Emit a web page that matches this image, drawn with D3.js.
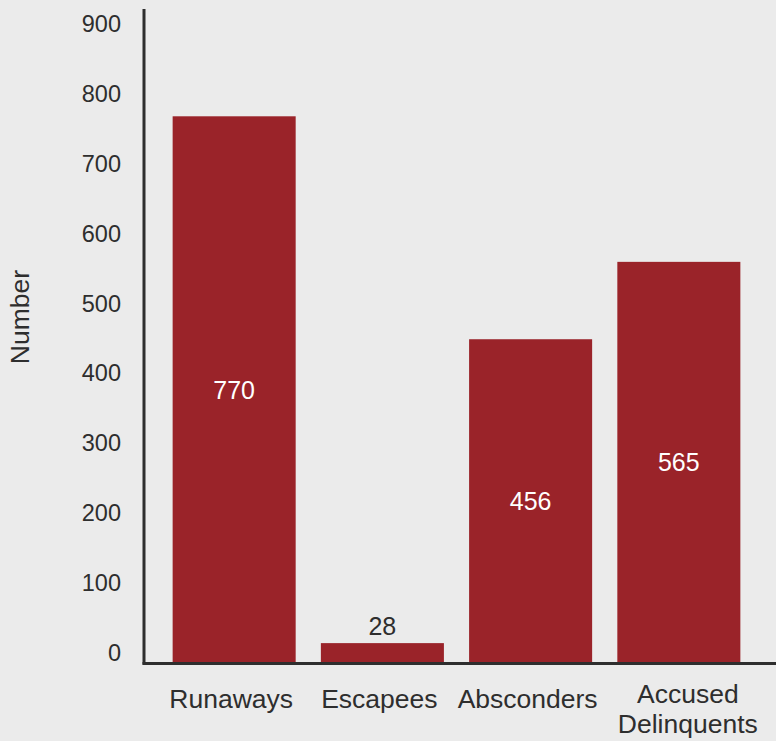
<!DOCTYPE html>
<html>
<head>
<meta charset="utf-8">
<script src="https://cdn.jsdelivr.net/npm/d3@7"></script>
<style>
    body { margin: 0; background: #ebebeb; }
    svg { display: block; font-family: "Liberation Sans", Arial, sans-serif; }
</style>
</head>
<body>
<div id="chart"></div>
<script>
// chart data
let categories = ['Runaways', 'Escapees', 'Absconders', 'Accused Delinquents'];
let counts = [770, 28, 456, 565];
let tickValues = [0, 100, 200, 300, 400, 500, 600, 700, 800, 900];

let width = 776,
    height = 741,
    barColor = '#9a2329',
    inkColor = '#2e2e2e';

let svg = d3.select('#chart').append('svg')
    .attr('width', width)
    .attr('height', height);

svg.append('rect')
    .attr('width', width)
    .attr('height', height)
    .attr('fill', '#ebebeb');

// scales
let x = d3.scaleBand()
    .domain(categories)
    .range([143, 770])
    .paddingInner(0.17)
    .paddingOuter(0.2);

let y = d3.scaleLinear()
    .domain([0, 900])
    .range([663, 24]);

// tick labels sit a little above the bar scale
let yTicks = d3.scaleLinear()
    .domain([0, 900])
    .range([653, 24]);

// bars
svg.selectAll('.bar')
    .data(counts)
    .enter().append('rect')
    .attr('class', 'bar')
    .attr('x', function(d, i) { return x(categories[i]); })
    .attr('width', x.bandwidth())
    .attr('y', function(d) { return y(d); })
    .attr('height', function(d) { return y(0) - y(d); })
    .attr('fill', barColor);

// value labels: inside for tall bars, above for short ones
svg.selectAll('.value')
    .data(counts)
    .enter().append('text')
    .attr('class', 'value')
    .attr('x', function(d, i) { return x(categories[i]) + x.bandwidth() / 2; })
    .attr('y', function(d) {
        return d < 100 ? y(d) - 8 : y(d / 2) + 9;
    })
    .attr('text-anchor', 'middle')
    .attr('font-size', 25)
    .attr('fill', function(d) { return d < 100 ? inkColor : '#ffffff'; })
    .text(function(d) { return d; });

// y axis
let yAxis = d3.axisLeft(yTicks)
    .tickValues(tickValues)
    .tickSize(0)
    .tickPadding(0);

let gy = svg.append('g')
    .attr('transform', 'translate(121,0)')
    .call(yAxis);
gy.select('.domain').remove();
gy.selectAll('text')
    .attr('font-size', 23.5)
    .attr('font-family', '"Liberation Sans", Arial, sans-serif')
    .attr('fill', inkColor);

// axis lines
svg.append('line')
    .attr('x1', 144).attr('x2', 144)
    .attr('y1', 9).attr('y2', 664.5)
    .attr('stroke', inkColor)
    .attr('stroke-width', 3);

svg.append('line')
    .attr('x1', 142.5).attr('x2', width)
    .attr('y1', 663.5).attr('y2', 663.5)
    .attr('stroke', inkColor)
    .attr('stroke-width', 3);

// category labels, long names wrap to two lines
svg.selectAll('.cat')
    .data(categories)
    .enter().append('text')
    .attr('class', 'cat')
    .attr('x', function(d) { return x(d) + x.bandwidth() / 2 - 3; })
    .attr('text-anchor', 'middle')
    .attr('font-size', 26.5)
    .attr('fill', inkColor)
    .each(function(d) {
        let words = d.split(' ');
        let t = d3.select(this);
        if (words.length === 1) {
            t.append('tspan').attr('y', 708).text(d);
        } else {
            words.forEach(function(w, k) {
                t.append('tspan')
                    .attr('x', x(d) + x.bandwidth() / 2 + 9)
                    .attr('y', 703 + k * 30)
                    .text(w);
            });
        }
    });

// y axis title
svg.append('text')
    .attr('transform', 'translate(29,317) rotate(-90)')
    .attr('text-anchor', 'middle')
    .attr('font-size', 26.5)
    .attr('fill', inkColor)
    .text('Number');
</script>
</body>
</html>
